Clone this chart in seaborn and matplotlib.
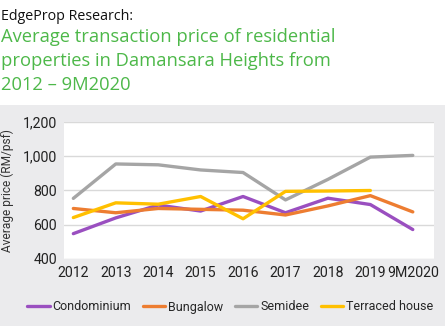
import matplotlib
matplotlib.use("Agg")
import matplotlib.pyplot as plt
import seaborn as sns
import pandas as pd
import numpy as np
from matplotlib.patches import Rectangle
from matplotlib.lines import Line2D

years = ["2012", "2013", "2014", "2015", "2016", "2017", "2018", "2019", "9M2020"]
condominium = [548, 640, 715, 680, 765, 670, 755, 718, 572]
bungalow = [695, 670, 695, 690, 685, 657, 710, 770, 675]
semidee = [754, 955, 950, 920, 905, 745, 865, 995, 1005]
terraced = [642, 728, 720, 765, 635, 795, 797, 800, np.nan]

series_names = ["Condominium", "Bungalow", "Semidee", "Terraced house"]
colors = ["#9a4fc0", "#ed7d31", "#a5a5a5", "#ffc000"]

rows = []
for name, vals in zip(series_names, [condominium, bungalow, semidee, terraced]):
    for i, (y, v) in enumerate(zip(years, vals)):
        rows.append({"idx": i, "year": y, "value": v, "series": name})
df = pd.DataFrame(rows)

sns.set_theme(style="white")
plt.rcParams["font.family"] = ["Roboto", "DejaVu Sans"]

fig = plt.figure(figsize=(4.47, 3.26), dpi=100)
fig.patch.set_facecolor("white")
fig.patches.append(Rectangle((0, 0), 445/447, (326-105)/326, transform=fig.transFigure,
                             facecolor="#ebebed", edgecolor="none", zorder=-10))

ax = fig.add_axes([64/447, (326-259)/326, (434-64)/447, (259-122)/326])
ax.set_facecolor("white")
sns.lineplot(data=df, x="idx", y="value", hue="series", palette=colors,
             hue_order=series_names, linewidth=2.4, ax=ax, legend=False)
ax.set_xlim(-0.22, 8.5)
ax.set_ylim(400, 1200)
ax.set_yticks([400, 600, 800, 1000, 1200])
ax.set_yticklabels(["400", "600", "800", "1,000", "1,200"])
ax.set_xticks(range(len(years)))
ax.set_xticklabels(years)
ax.tick_params(axis="both", labelsize=10.2, colors="#222222", length=0, pad=5)
ax.yaxis.grid(True, color="#d9d9d9", linewidth=1)
ax.set_axisbelow(True)
for s in ax.spines.values():
    s.set_visible(False)
ax.set_xlabel("")
ax.set_ylabel("Average price (RM/psf)", fontsize=8.6, color="#333333", labelpad=6)

handles = [Line2D([0], [0], color=c, lw=2.4) for c in colors]
fig.legend(handles, series_names, loc="center", bbox_to_anchor=(0.515, (326-307)/326),
           ncol=4, frameon=False, fontsize=9.0, handlelength=1.8, handletextpad=0.25,
           columnspacing=0.9)

fig.text(1/447, 1 - 16/326, "EdgeProp Research:", fontsize=10.3, color="#111111",
         family=["Open Sans", "DejaVu Sans"], va="center", ha="left")
green = "#4db849"
fig.text(1/447, 1 - 37/326, "Average transaction price of residential", fontsize=13.2,
         color=green, family=["Open Sans", "DejaVu Sans"], va="center", ha="left")
fig.text(1/447, 1 - 61/326, "properties in Damansara Heights from", fontsize=13.2,
         color=green, family=["Open Sans", "DejaVu Sans"], va="center", ha="left")
fig.text(1/447, 1 - 85/326, "2012 \u2013 9M2020", fontsize=13.2,
         color=green, family=["Open Sans", "DejaVu Sans"], va="center", ha="left")

fig.savefig("out.png", dpi=100)
